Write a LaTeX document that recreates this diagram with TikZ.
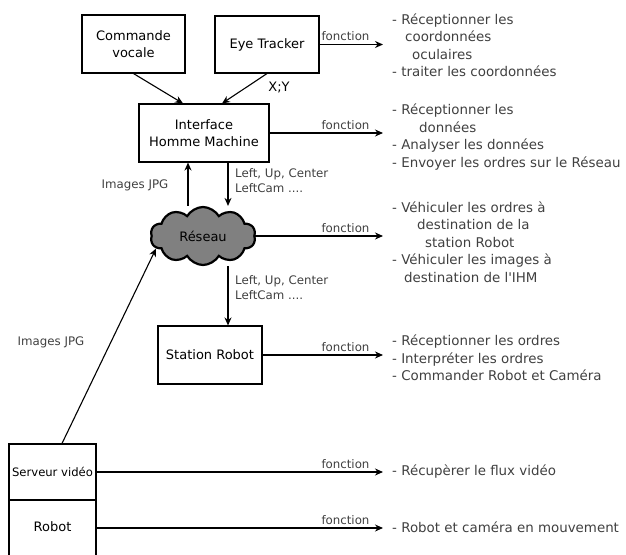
\documentclass[tikz,border=0pt]{standalone}
\usepackage{fontspec}
\setmainfont{DejaVu Sans}[Ligatures=TeXOff]
\usetikzlibrary{shapes.symbols,arrows.meta}
\definecolor{txtgray}{HTML}{404040}
\definecolor{cloudgray}{HTML}{808080}
\begin{document}
\begin{tikzpicture}[x=1pt,y=-1pt]
  \tikzstyle{block} = [rectangle, draw, line width=1.1pt, inner sep=0pt, align=center, font=\fontsize{13}{17}\selectfont]
  \tikzstyle{net} = [cloud, cloud puffs=10, cloud puff arc=120, aspect=1.8, draw, line width=2.2pt, fill=cloudgray, inner sep=0pt, minimum width=105pt, minimum height=58pt, font=\fontsize{13}{17}\selectfont]
  \tikzstyle{task} = [anchor=west, align=left, inner sep=0pt, text=txtgray, font=\fontsize{13.4}{17.5}\selectfont]
  \tikzstyle{tag} = [inner sep=0pt, text=txtgray, font=\fontsize{11.8}{15}\selectfont]
  \tikzstyle{link} = [line width=1.1pt, -{Stealth[length=8pt,width=7pt]}]

  \useasboundingbox (0,0) rectangle (626,554);

  % Blocks
  \node[block, minimum width=103pt, minimum height=58pt] (cmd) at (133.5,44) {Commande\\vocale};
  \node[block, minimum width=104pt, minimum height=57pt] (eye) at (267,44.5) {Eye Tracker};
  \node[block, minimum width=130pt, minimum height=58pt] (ihm) at (204,133) {Interface\\Homme Machine};
  \node[net] (reseau) at (203,236) {Réseau};
  \node[block, minimum width=104pt, minimum height=58pt] (station) at (210,355) {Station Robot};
  \node[block, minimum width=87pt, minimum height=56pt, font=\fontsize{11.6}{15}\selectfont] (serveur) at (52.5,472) {Serveur vidéo};
  \node[block, minimum width=87pt, minimum height=56pt] (robot) at (52.5,528) {\raisebox{3pt}{Robot}};

  % Functions
  \node[task] (eye-fn) at (392,45) {- Réceptionner les\\\hspace*{13pt}coordonnées\\\hspace*{20pt}oculaires\\- traiter les coordonnées};
  \node[task] (ihm-fn) at (392,137) {- Réceptionner les\\\hspace*{27pt}données\\- Analyser les données\\- Envoyer les ordres sur le Réseau};
  \node[task] (reseau-fn) at (392,242) {- Véhiculer les ordres à\\\hspace*{25pt}destination de la\\\hspace*{33pt}station Robot\\- Véhiculer les images à\\\hspace*{12pt}destination de l'IHM};
  \node[task] (station-fn) at (392,358) {- Réceptionner les ordres\\- Interpréter les ordres\\- Commander Robot et Caméra};
  \node[task] (serveur-fn) at (392,472) {- Récupèrer le flux vidéo};
  \node[task] (robot-fn) at (392,527) {- Robot et caméra en mouvement};

  % Labels
  \node[block, draw=none] (xy) at (279,88) {X;Y};
  \node[tag, anchor=west, align=left] (ordres-ihm) at (235,181) {Left, Up, Center\\LeftCam ....};
  \node[tag, anchor=west, align=left] (ordres-station) at (235,288) {Left, Up, Center\\LeftCam ....};
  \node[tag] (images-ihm) at (135,185) {Images JPG};
  \node[tag] (images-serveur) at (51,342) {Images JPG};

  % Connections
  \draw[link] (cmd.south) -- ([xshift=-21pt]ihm.north);
  \draw[link] (eye.south) -- ([xshift=18pt]ihm.north);
  \draw[link] ([xshift=24pt]ihm.south) -- ([xshift=24pt]ihm.south |- reseau.north);
  \draw[link] ([xshift=-16pt]ihm.south |- reseau.north) -- ([xshift=-16pt]ihm.south);
  \draw[link] ([xshift=18pt]station.north |- reseau.south) -- ([xshift=18pt]station.north);
  \draw[link] ([xshift=9.5pt]serveur.north) -- (reseau.195);

  \foreach \src in {eye, ihm, reseau, station, serveur, robot}
    \draw[link, shorten >=9pt] (\src.east) -- node[tag, at end, anchor=south east, xshift=-22pt, yshift=3pt] {fonction} (\src.east -| \src-fn.west);

\end{tikzpicture}
\end{document}
